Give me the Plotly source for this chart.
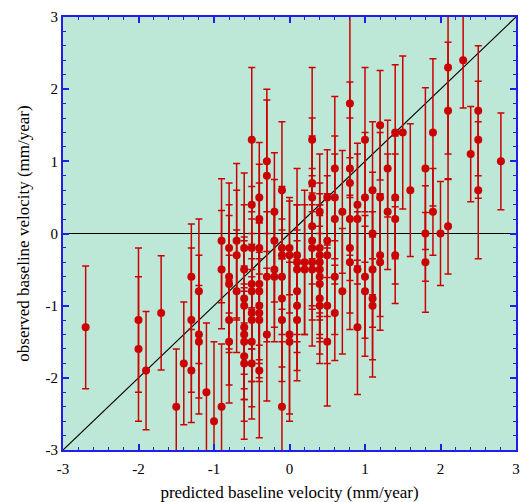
import plotly.graph_objects as go

# predicted (x), observed (y) baseline velocities and 1-sigma errors (mm/year)
x_pred = [
    -2.7,
    -2.0, -2.0,
    -1.9, -1.7, -1.5, -1.4,
    -1.3, -1.3, -1.3,
    -1.2, -1.2, -1.2,
    -1.1, -1.0,
    -0.9, -0.9, -0.9,
    -0.8, -0.8, -0.8, -0.8, -0.8,
    -0.7, -0.7, -0.7,
    -0.6, -0.6, -0.6, -0.6, -0.6, -0.6, -0.6, -0.6, -0.6,
    -0.5, -0.5, -0.5, -0.5, -0.5, -0.5, -0.5, -0.5, -0.5,
    -0.4, -0.4, -0.4, -0.4, -0.4, -0.4, -0.4, -0.4, -0.4,
    -0.3, -0.3, -0.3, -0.3,
    -0.2, -0.2, -0.2, -0.2,
    -0.1, -0.1, -0.1, -0.1, -0.1, -0.1, -0.1,
    0.0, 0.0, 0.0, 0.0,
    0.1, 0.1, 0.1, 0.1, 0.1, 0.1,
    0.2, 0.2,
    0.3, 0.3, 0.3, 0.3, 0.3, 0.3, 0.3, 0.3,
    0.4, 0.4, 0.4, 0.4, 0.4, 0.4, 0.4, 0.4, 0.4,
    0.5, 0.5, 0.5, 0.5, 0.5,
    0.6, 0.6, 0.6, 0.6, 0.6,
    0.7, 0.7,
    0.8, 0.8, 0.8, 0.8, 0.8, 0.8,
    0.9, 0.9, 0.9, 0.9,
    1.0, 1.0, 1.0, 1.0,
    1.1, 1.1, 1.1, 1.1, 1.1,
    1.2, 1.2, 1.2, 1.2,
    1.3, 1.3,
    1.4, 1.4, 1.4, 1.4,
    1.5, 1.6,
    1.8, 1.8, 1.8,
    1.9, 1.9,
    2.0,
    2.1, 2.1, 2.1,
    2.3, 2.4,
    2.5, 2.5, 2.5,
    2.8,
]

y_obs = [
    -1.3,
    -1.2, -1.6,
    -1.9, -1.1, -2.4, -1.8,
    -0.6, -1.2, -1.9,
    -0.8, -1.4, -1.5,
    -2.2, -2.6,
    -0.1, -0.5, -2.4,
    -0.2, -0.6, -0.7, -1.2, -1.5,
    -0.1, -0.3, -0.8,
    -0.2, -0.5, -0.9, -1.0, -1.3, -1.4, -1.5, -1.7, -1.8,
    1.3, 0.4, -0.2, -0.7, -0.8, -1.1, -1.2, -1.5, -1.8,
    0.5, 0.2, -0.2, -0.7, -0.8, -1.0, -1.1, -1.2, -1.9,
    1.0, 0.8, -0.6, -1.4,
    0.3, -0.1, -0.5, -0.6,
    0.6, -0.2, -0.3, -0.6, -0.9, -1.2, -2.4,
    -0.2, -0.3, -1.4, -1.5,
    -0.3, -0.4, -0.5, -0.8, -1.0, -1.2,
    -0.4, -0.5,
    1.3, 0.7, 0.5, 0.1, -0.1, -0.2, -0.4, -0.5,
    0.3, -0.2, -0.3, -0.4, -0.5, -0.6, -0.7, -0.9, -1.0,
    0.5, -0.1, -0.3, -1.0, -1.5,
    0.9, 0.5, 0.2, -0.6, -1.1,
    0.3, -0.8,
    1.8, 0.9, 0.7, 0.2, -0.2, -0.4,
    0.4, 0.2, -0.5, -1.3,
    1.3, 0.5, -0.6, -0.8,
    0.6, 0.0, -0.5, -0.9, -1.0,
    1.5, 0.5, -0.3, -0.4,
    0.9, 0.3,
    1.4, 0.5, 0.2, -0.3,
    1.4, 0.6,
    0.9, 0.0, -0.4,
    1.4, 0.3,
    0.0,
    2.3, 1.7, 0.1,
    2.4, 1.1,
    1.7, 1.3, 0.6,
    1.0,
]

y_err = [
    0.85,
    1.0, 1.0,
    0.82, 0.79, 0.8, 0.85,
    0.73, 1.0, 0.72,
    1.0, 1.1, 0.78,
    0.96, 1.1,
    0.86, 0.82, 0.87,
    0.9, 1.0, 0.95, 0.9, 0.85,
    1.07, 0.9, 0.85,
    1.04, 0.9, 0.8, 0.95, 0.85, 0.9, 0.8, 0.9, 1.05,
    1.0, 0.9, 0.85, 0.9, 0.8, 0.95, 0.85, 0.9, 0.77,
    0.76, 0.76, 0.9, 0.85, 0.95, 0.8, 0.9, 0.85, 0.93,
    1.0, 1.05, 0.9, 0.92,
    0.82, 0.85, 0.8, 0.9,
    0.95, 0.85, 0.9, 0.8, 0.95, 0.85, 0.9,
    0.65, 0.8, 1.1, 1.1,
    1.2, 0.8, 0.9, 0.85, 0.9, 0.84,
    1.0, 0.9,
    1.0, 0.9, 0.85, 0.8, 0.9, 0.85, 0.8, 1.06,
    0.8, 0.9, 0.85, 0.8, 0.9, 0.85, 0.8, 0.9, 0.67,
    0.66, 0.9, 0.85, 0.8, 0.89,
    1.0, 0.85, 0.9, 0.8, 0.66,
    0.85, 0.87,
    1.3, 1.2, 0.9, 0.85, 0.9, 0.93,
    0.85, 0.9, 0.8, 0.93,
    1.0, 0.9, 0.85, 0.9,
    0.95, 0.85, 0.8, 0.85, 0.99,
    0.76, 0.9, 0.85, 0.94,
    0.67, 0.8,
    0.94, 0.85, 0.9, 0.67,
    1.06, 0.92,
    1.12, 0.66, 0.69,
    1.02, 0.6,
    0.72,
    1.2, 0.95, 0.66,
    0.66, 0.66,
    0.9, 0.81, 0.95,
    0.67,
]

axis_range = [-3, 3]
tick_vals = [-3, -2, -1, 0, 1, 2, 3]
tick_text = ["-3", "-2", "-1", "0", "1", "2", "3"]

FONT = "Liberation Serif, Times New Roman, serif"
AXIS_BLUE = "#1f1fe6"
RED = "#cc0000"

fig = go.Figure()

# reference lines: y = x and y = 0
fig.add_trace(go.Scatter(x=axis_range, y=axis_range, mode="lines",
                         line=dict(color="black", width=1.2),
                         hoverinfo="skip", showlegend=False))
fig.add_trace(go.Scatter(x=axis_range, y=[0, 0], mode="lines",
                         line=dict(color="black", width=1.2),
                         hoverinfo="skip", showlegend=False))

fig.add_trace(go.Scatter(
    x=x_pred, y=y_obs, mode="markers",
    marker=dict(color=RED, size=8, line=dict(width=0)),
    error_y=dict(type="data", array=y_err, visible=True,
                 color=RED, thickness=1.5, width=3.5),
    showlegend=False,
))

axis_common = dict(
    range=axis_range,
    tickmode="array", tickvals=tick_vals, ticktext=tick_text,
    ticks="inside", ticklen=6, tickwidth=1.5, tickcolor=AXIS_BLUE,
    showline=True, linecolor=AXIS_BLUE, linewidth=2, mirror="allticks",
    showgrid=False, zeroline=False,
    tickfont=dict(family=FONT, size=15, color="black"),
    minor=dict(ticks="inside", ticklen=3, tickwidth=1, tickcolor=AXIS_BLUE,
               dtick=0.2, tick0=0, showgrid=False),
)

fig.update_xaxes(**axis_common, ticklabelstandoff=4, ticklabeloverflow="allow",
                 title=dict(text="predicted baseline velocity (mm/year)",
                            font=dict(family=FONT, size=17, color="black"),
                            standoff=10))
fig.update_yaxes(**axis_common,
                 title=dict(text="observed baseline velocity (mm/year)",
                            font=dict(family=FONT, size=17, color="black"),
                            standoff=12))

fig.update_layout(
    width=521, height=502,
    margin=dict(l=63, r=1, t=17, b=52),
    paper_bgcolor="white",
    plot_bgcolor="#bde8d7",
    showlegend=False,
)

fig.write_html("out.html")
